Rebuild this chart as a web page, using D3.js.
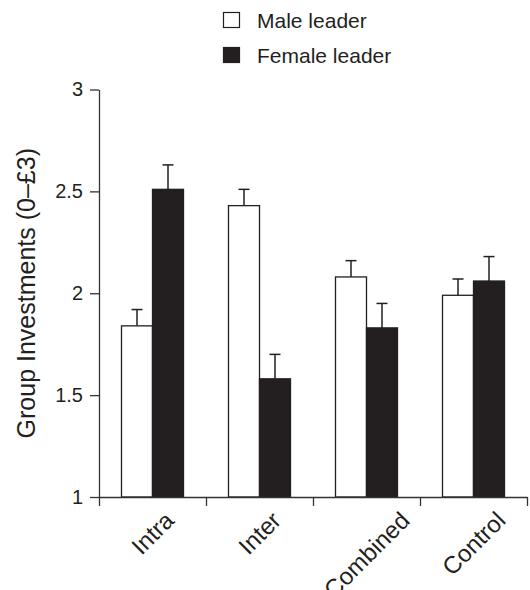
<!DOCTYPE html>
<html>
<head>
<meta charset="utf-8">
<script src="https://cdn.jsdelivr.net/npm/d3@7"></script>
<style>
  html, body { margin: 0; padding: 0; background: #fff; }
  text { font-family: "Liberation Sans", Arial, Helvetica, sans-serif; fill: #231f20; }
</style>
</head>
<body>
<svg id="chart" width="530" height="590"></svg>
<script>
const categories = ["Intra", "Inter", "Combined", "Control"];
const seriesNames = ["Male leader", "Female leader"];
const maleValues = [1.84, 2.43, 2.08, 1.99];
const maleErrors = [0.08, 0.08, 0.08, 0.08];
const femaleValues = [2.51, 1.58, 1.83, 2.06];
const femaleErrors = [0.12, 0.12, 0.12, 0.12];
const yTicks = [1, 1.5, 2, 2.5, 3];
const yTitle = "Group Investments (0\u2013\u00a33)";

const ink = "#231f20";
const fills = ["#ffffff", ink];

const svg = d3.select("#chart");

const x0 = d3.scaleBand().domain(categories).range([99, 527]).paddingInner(0).paddingOuter(0);
const x1 = d3.scaleBand().domain(seriesNames).range([0, 62]);
const barOffset = (x0.bandwidth() - 62) / 2;
const y = d3.scaleLinear().domain([1, 3]).range([497, 89.5]);

const rows = categories.map((c, i) => ({
  cat: c,
  vals: [
    { s: seriesNames[0], v: maleValues[i], e: maleErrors[i], f: fills[0] },
    { s: seriesNames[1], v: femaleValues[i], e: femaleErrors[i], f: fills[1] }
  ]
}));

// bars
const g = svg.append("g");
const groups = g.selectAll("g.grp").data(rows).join("g")
  .attr("transform", d => `translate(${x0(d.cat) + barOffset},0)`);

// error bars (upward only)
groups.selectAll("g.err").data(d => d.vals).join("g").each(function(d) {
  const cx = x1(d.s) + x1.bandwidth() / 2;
  const sel = d3.select(this);
  sel.append("line").attr("x1", cx).attr("x2", cx)
    .attr("y1", y(d.v)).attr("y2", y(d.v + d.e))
    .attr("stroke", ink).attr("stroke-width", 1.5);
  sel.append("line").attr("x1", cx - 5.5).attr("x2", cx + 5.5)
    .attr("y1", y(d.v + d.e)).attr("y2", y(d.v + d.e))
    .attr("stroke", ink).attr("stroke-width", 1.5);
});

groups.selectAll("rect").data(d => d.vals).join("rect")
  .attr("x", d => x1(d.s))
  .attr("width", x1.bandwidth())
  .attr("y", d => y(d.v))
  .attr("height", d => y(1) - y(d.v))
  .attr("fill", d => d.f)
  .attr("stroke", ink)
  .attr("stroke-width", 1.3);

// y axis
const yAxis = svg.append("g").attr("transform", "translate(99,0)")
  .call(d3.axisLeft(y).tickValues(yTicks).tickFormat(d3.format("")).tickSize(9).tickPadding(7).tickSizeOuter(0));
yAxis.select(".domain").attr("stroke", "#333").attr("stroke-width", 1.3);
yAxis.selectAll(".tick line").attr("stroke", "#333").attr("stroke-width", 1.3);
yAxis.selectAll(".tick text").style("font-size", "20px").attr("fill", ink);

// x axis: ticks at category boundaries
const xb = d3.scaleLinear().domain([0, categories.length]).range([99, 527]);
const xAxis = svg.append("g").attr("transform", "translate(0,497)")
  .call(d3.axisBottom(xb).ticks(categories.length).tickFormat("").tickSize(9).tickSizeOuter(0));
xAxis.select(".domain").attr("stroke", "#333").attr("stroke-width", 1.3);
xAxis.selectAll(".tick line").attr("stroke", "#333").attr("stroke-width", 1.3);

// category labels rotated -45
const labG = svg.append("g");
labG.selectAll("text").data(categories).join("text")
  .text(d => d)
  .style("font-size", "24px")
  .attr("text-anchor", "end")
  .each(function(d) {
    const L = this.getComputedTextLength();
    const h = 17;
    const cx = x0(d) + x0.bandwidth() / 2;
    const ax = cx + 0.354 * (L + h);
    const ay = 510 + 0.707 * h;
    d3.select(this).attr("transform", `translate(${ax},${ay}) rotate(-45)`);
  });

// y title
svg.append("text")
  .attr("transform", `translate(35,${y(2)}) rotate(-90)`)
  .attr("text-anchor", "middle")
  .style("font-size", "25px")
  .text(yTitle);

// legend
const leg = svg.append("g");
const legItems = leg.selectAll("g").data(seriesNames).join("g")
  .attr("transform", (d, i) => `translate(223,${12 + i * 35})`);
legItems.append("rect").attr("x", 0.5).attr("y", 0.5).attr("width", 16).attr("height", 15)
  .attr("fill", (d, i) => fills[i]).attr("stroke", ink).attr("stroke-width", 1.2);
legItems.append("text").attr("x", 34).attr("y", 15.5)
  .style("font-size", "21px").text(d => d);
</script>
</body>
</html>
